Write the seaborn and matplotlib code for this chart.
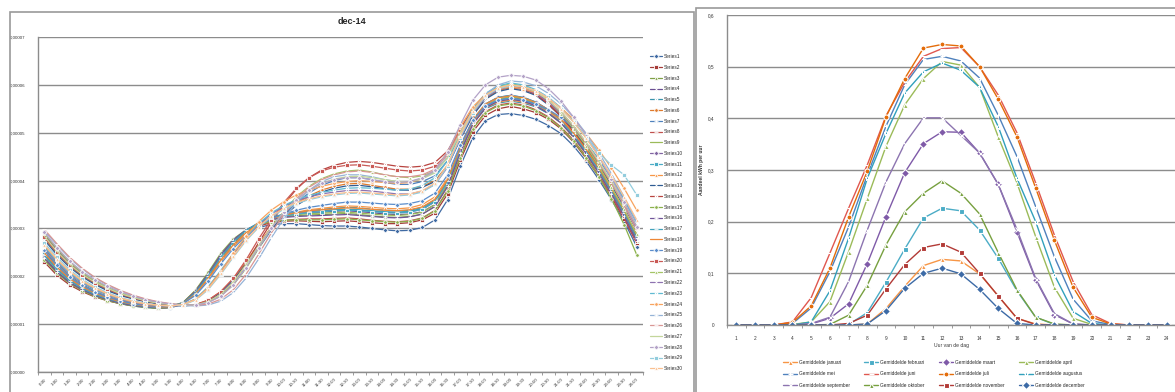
import numpy as np
import matplotlib
matplotlib.use('Agg')
import matplotlib.pyplot as plt
import seaborn as sns
from matplotlib.patches import Rectangle
from matplotlib.ticker import FuncFormatter

# ---- data: left chart, load profile per day of december (units of 1e-5) ----
time_labels = ['0:30', '1:00', '1:30', '2:00', '2:30', '3:00', '3:30', '4:00',
               '4:30', '5:00', '5:30', '6:00', '6:30', '7:00', '7:30', '8:00',
               '8:30', '9:00', '9:30', '10:00', '10:30', '11:00', '11:30', '12:00',
               '12:30', '13:00', '13:30', '14:00', '14:30', '15:00', '15:30', '16:00',
               '16:30', '17:00', '17:30', '18:00', '18:30', '19:00', '19:30', '20:00',
               '20:30', '21:00', '21:30', '22:00', '22:30', '23:00', '23:30', '24:00']

series_01 = [2.40, 2.10, 1.88, 1.72, 1.60, 1.50, 1.43, 1.38, 1.35, 1.33, 1.34, 1.42, 1.65, 2.00, 2.40, 2.72, 2.92, 3.02, 3.08, 3.10, 3.10, 3.08, 3.06, 3.05, 3.05, 3.03, 3.00, 2.97, 2.95, 2.96, 3.02, 3.18, 3.60, 4.30, 4.90, 5.25, 5.38, 5.40, 5.36, 5.28, 5.15, 4.98, 4.72, 4.40, 4.02, 3.60, 3.15, 2.62]
series_02 = [2.30, 2.02, 1.82, 1.68, 1.57, 1.49, 1.43, 1.39, 1.36, 1.34, 1.36, 1.45, 1.70, 2.05, 2.45, 2.75, 2.95, 3.05, 3.12, 3.15, 3.16, 3.15, 3.14, 3.15, 3.16, 3.14, 3.12, 3.10, 3.10, 3.12, 3.18, 3.32, 3.72, 4.42, 5.02, 5.36, 5.50, 5.55, 5.50, 5.42, 5.28, 5.08, 4.80, 4.46, 4.08, 3.65, 3.20, 2.70]
series_03 = [2.48, 2.18, 1.95, 1.77, 1.64, 1.54, 1.46, 1.41, 1.37, 1.35, 1.36, 1.44, 1.66, 2.00, 2.38, 2.70, 2.93, 3.08, 3.18, 3.24, 3.27, 3.28, 3.29, 3.30, 3.31, 3.29, 3.26, 3.24, 3.23, 3.25, 3.30, 3.46, 3.88, 4.58, 5.18, 5.52, 5.66, 5.70, 5.66, 5.56, 5.40, 5.20, 4.90, 4.55, 4.15, 3.72, 3.26, 2.74]
series_04 = [2.52, 2.22, 1.97, 1.79, 1.66, 1.55, 1.47, 1.42, 1.38, 1.36, 1.37, 1.44, 1.64, 1.98, 2.36, 2.68, 2.92, 3.08, 3.19, 3.26, 3.30, 3.33, 3.34, 3.36, 3.37, 3.35, 3.33, 3.30, 3.29, 3.30, 3.35, 3.50, 3.92, 4.62, 5.22, 5.56, 5.70, 5.74, 5.70, 5.60, 5.44, 5.24, 4.95, 4.60, 4.20, 3.76, 3.30, 2.80]
series_05 = [2.58, 2.27, 2.02, 1.83, 1.69, 1.58, 1.50, 1.44, 1.40, 1.37, 1.38, 1.45, 1.63, 1.95, 2.32, 2.64, 2.90, 3.08, 3.20, 3.28, 3.33, 3.37, 3.40, 3.42, 3.44, 3.43, 3.40, 3.38, 3.37, 3.38, 3.44, 3.60, 4.00, 4.65, 5.20, 5.50, 5.62, 5.66, 5.62, 5.54, 5.40, 5.22, 4.98, 4.66, 4.30, 3.90, 3.46, 2.98]
series_06 = [2.80, 2.48, 2.22, 2.01, 1.85, 1.72, 1.62, 1.54, 1.48, 1.43, 1.40, 1.39, 1.41, 1.50, 1.68, 1.95, 2.30, 2.68, 3.02, 3.30, 3.52, 3.68, 3.80, 3.88, 3.93, 3.94, 3.90, 3.86, 3.82, 3.82, 3.88, 4.00, 4.32, 4.88, 5.38, 5.72, 5.88, 5.94, 5.90, 5.80, 5.60, 5.36, 5.06, 4.72, 4.32, 3.92, 3.48, 2.98]
series_07 = [2.88, 2.56, 2.28, 2.06, 1.89, 1.75, 1.64, 1.56, 1.49, 1.44, 1.41, 1.39, 1.40, 1.46, 1.60, 1.84, 2.18, 2.58, 2.96, 3.28, 3.54, 3.74, 3.90, 4.00, 4.06, 4.06, 4.02, 3.96, 3.92, 3.92, 3.98, 4.10, 4.42, 4.98, 5.46, 5.80, 5.96, 6.00, 5.95, 5.84, 5.64, 5.38, 5.06, 4.70, 4.28, 3.84, 3.38, 2.86]
series_08 = [2.36, 2.08, 1.86, 1.71, 1.59, 1.50, 1.44, 1.39, 1.36, 1.34, 1.35, 1.44, 1.68, 2.03, 2.42, 2.73, 2.94, 3.06, 3.13, 3.17, 3.19, 3.20, 3.20, 3.21, 3.22, 3.20, 3.17, 3.15, 3.14, 3.16, 3.22, 3.38, 3.80, 4.50, 5.10, 5.44, 5.58, 5.62, 5.58, 5.48, 5.33, 5.12, 4.84, 4.50, 4.10, 3.68, 3.22, 2.70]
series_09 = [2.42, 2.13, 1.90, 1.74, 1.61, 1.52, 1.45, 1.40, 1.36, 1.34, 1.35, 1.43, 1.66, 2.01, 2.40, 2.72, 2.95, 3.10, 3.20, 3.26, 3.29, 3.31, 3.32, 3.33, 3.34, 3.32, 3.30, 3.28, 3.27, 3.29, 3.34, 3.50, 3.92, 4.62, 5.22, 5.56, 5.70, 5.75, 5.71, 5.61, 5.45, 5.24, 4.94, 4.58, 4.18, 3.74, 3.28, 2.76]
series_10 = [2.45, 2.15, 1.92, 1.75, 1.62, 1.53, 1.46, 1.41, 1.37, 1.35, 1.36, 1.44, 1.67, 2.02, 2.41, 2.73, 2.96, 3.11, 3.22, 3.29, 3.33, 3.35, 3.37, 3.38, 3.40, 3.38, 3.36, 3.34, 3.33, 3.35, 3.40, 3.56, 3.98, 4.66, 5.26, 5.60, 5.74, 5.78, 5.74, 5.64, 5.48, 5.27, 4.97, 4.62, 4.22, 3.78, 3.32, 2.80]
series_11 = [2.50, 2.20, 1.96, 1.78, 1.65, 1.55, 1.47, 1.42, 1.38, 1.36, 1.36, 1.43, 1.64, 1.97, 2.35, 2.67, 2.91, 3.07, 3.18, 3.25, 3.30, 3.33, 3.35, 3.37, 3.38, 3.37, 3.35, 3.33, 3.32, 3.34, 3.40, 3.56, 3.97, 4.64, 5.22, 5.55, 5.68, 5.72, 5.68, 5.58, 5.43, 5.23, 4.94, 4.60, 4.21, 3.78, 3.33, 2.83]
series_12 = [2.55, 2.25, 2.00, 1.81, 1.67, 1.57, 1.49, 1.43, 1.39, 1.37, 1.37, 1.44, 1.62, 1.94, 2.30, 2.62, 2.88, 3.06, 3.19, 3.28, 3.34, 3.39, 3.42, 3.45, 3.47, 3.46, 3.44, 3.42, 3.41, 3.43, 3.50, 3.66, 4.05, 4.68, 5.22, 5.52, 5.64, 5.68, 5.64, 5.56, 5.43, 5.26, 5.03, 4.72, 4.36, 3.96, 3.52, 3.04]
series_13 = [2.76, 2.45, 2.19, 1.99, 1.83, 1.70, 1.60, 1.53, 1.47, 1.42, 1.39, 1.38, 1.40, 1.49, 1.66, 1.92, 2.26, 2.64, 2.98, 3.26, 3.48, 3.64, 3.76, 3.84, 3.89, 3.90, 3.87, 3.83, 3.80, 3.80, 3.86, 3.98, 4.30, 4.86, 5.36, 5.70, 5.86, 5.92, 5.88, 5.78, 5.58, 5.34, 5.04, 4.70, 4.30, 3.90, 3.46, 2.96]
series_14 = [2.85, 2.53, 2.26, 2.04, 1.88, 1.74, 1.63, 1.55, 1.49, 1.44, 1.41, 1.39, 1.40, 1.47, 1.62, 1.88, 2.25, 2.70, 3.12, 3.50, 3.82, 4.06, 4.22, 4.32, 4.38, 4.40, 4.38, 4.34, 4.30, 4.28, 4.30, 4.38, 4.62, 5.08, 5.50, 5.80, 5.94, 5.98, 5.92, 5.80, 5.60, 5.34, 5.02, 4.66, 4.24, 3.80, 3.34, 2.82]
series_15 = [2.34, 2.06, 1.85, 1.70, 1.58, 1.49, 1.43, 1.38, 1.35, 1.33, 1.35, 1.45, 1.71, 2.08, 2.48, 2.78, 2.97, 3.08, 3.14, 3.17, 3.18, 3.18, 3.18, 3.19, 3.20, 3.18, 3.16, 3.14, 3.13, 3.15, 3.21, 3.37, 3.78, 4.48, 5.08, 5.42, 5.56, 5.60, 5.56, 5.46, 5.31, 5.10, 4.82, 4.48, 4.08, 3.62, 3.08, 2.45]
series_16 = [2.38, 2.09, 1.87, 1.72, 1.60, 1.51, 1.44, 1.39, 1.36, 1.34, 1.35, 1.44, 1.69, 2.05, 2.45, 2.76, 2.97, 3.10, 3.18, 3.23, 3.25, 3.26, 3.27, 3.28, 3.29, 3.27, 3.25, 3.23, 3.22, 3.24, 3.30, 3.46, 3.88, 4.58, 5.18, 5.52, 5.66, 5.70, 5.66, 5.56, 5.41, 5.20, 4.91, 4.56, 4.16, 3.72, 3.26, 2.74]
series_17 = [2.44, 2.14, 1.91, 1.75, 1.62, 1.53, 1.46, 1.41, 1.37, 1.35, 1.36, 1.44, 1.66, 2.01, 2.40, 2.72, 2.96, 3.12, 3.23, 3.30, 3.34, 3.36, 3.38, 3.39, 3.40, 3.39, 3.37, 3.35, 3.34, 3.36, 3.42, 3.58, 4.00, 4.68, 5.27, 5.60, 5.74, 5.78, 5.74, 5.64, 5.48, 5.27, 4.98, 4.63, 4.23, 3.79, 3.33, 2.81]
series_18 = [2.49, 2.19, 1.95, 1.78, 1.65, 1.55, 1.47, 1.42, 1.38, 1.36, 1.36, 1.43, 1.63, 1.96, 2.34, 2.66, 2.91, 3.08, 3.20, 3.28, 3.33, 3.37, 3.39, 3.41, 3.43, 3.42, 3.40, 3.38, 3.37, 3.39, 3.45, 3.61, 4.02, 4.70, 5.28, 5.60, 5.73, 5.77, 5.73, 5.63, 5.48, 5.28, 4.99, 4.65, 4.26, 3.83, 3.38, 2.87]
series_19 = [2.54, 2.24, 1.99, 1.81, 1.67, 1.57, 1.49, 1.43, 1.39, 1.37, 1.37, 1.43, 1.60, 1.90, 2.26, 2.58, 2.85, 3.05, 3.20, 3.30, 3.38, 3.44, 3.48, 3.52, 3.55, 3.55, 3.53, 3.51, 3.50, 3.52, 3.58, 3.74, 4.12, 4.74, 5.26, 5.56, 5.68, 5.72, 5.68, 5.60, 5.48, 5.32, 5.10, 4.80, 4.44, 4.04, 3.60, 3.12]
series_20 = [2.82, 2.50, 2.24, 2.03, 1.87, 1.74, 1.63, 1.55, 1.49, 1.44, 1.41, 1.39, 1.41, 1.50, 1.68, 1.96, 2.34, 2.78, 3.18, 3.54, 3.84, 4.06, 4.20, 4.28, 4.32, 4.33, 4.30, 4.26, 4.22, 4.20, 4.22, 4.30, 4.56, 5.04, 5.48, 5.78, 5.92, 5.96, 5.92, 5.82, 5.64, 5.40, 5.10, 4.76, 4.36, 3.94, 3.50, 3.00]
series_21 = [2.90, 2.58, 2.30, 2.08, 1.91, 1.77, 1.66, 1.57, 1.50, 1.45, 1.42, 1.40, 1.40, 1.46, 1.59, 1.82, 2.16, 2.58, 3.00, 3.36, 3.66, 3.88, 4.04, 4.14, 4.20, 4.22, 4.18, 4.12, 4.08, 4.06, 4.10, 4.20, 4.48, 4.98, 5.44, 5.78, 5.96, 6.02, 5.98, 5.86, 5.66, 5.40, 5.08, 4.72, 4.30, 3.86, 3.40, 2.88]
series_22 = [2.60, 2.30, 2.05, 1.86, 1.72, 1.61, 1.52, 1.46, 1.41, 1.38, 1.37, 1.40, 1.52, 1.76, 2.10, 2.46, 2.80, 3.08, 3.30, 3.46, 3.58, 3.66, 3.72, 3.76, 3.79, 3.80, 3.78, 3.75, 3.72, 3.72, 3.78, 3.92, 4.28, 4.88, 5.40, 5.74, 5.90, 5.96, 5.92, 5.82, 5.64, 5.42, 5.12, 4.78, 4.38, 3.96, 3.50, 3.00]
series_23 = [2.62, 2.32, 2.07, 1.88, 1.73, 1.62, 1.53, 1.47, 1.42, 1.39, 1.38, 1.41, 1.53, 1.78, 2.12, 2.48, 2.82, 3.10, 3.32, 3.48, 3.60, 3.69, 3.75, 3.80, 3.84, 3.85, 3.84, 3.82, 3.80, 3.82, 3.90, 4.06, 4.42, 5.00, 5.50, 5.82, 5.98, 6.04, 6.00, 5.90, 5.74, 5.52, 5.24, 4.90, 4.50, 4.08, 3.62, 3.12]
series_24 = [2.65, 2.35, 2.10, 1.90, 1.75, 1.63, 1.54, 1.47, 1.42, 1.39, 1.38, 1.41, 1.52, 1.76, 2.10, 2.48, 2.84, 3.14, 3.38, 3.56, 3.70, 3.80, 3.88, 3.94, 3.98, 4.00, 3.98, 3.96, 3.94, 3.96, 4.04, 4.22, 4.60, 5.12, 5.54, 5.80, 5.92, 5.96, 5.92, 5.84, 5.70, 5.52, 5.28, 4.98, 4.64, 4.26, 3.84, 3.38]
series_25 = [2.95, 2.66, 2.38, 2.15, 1.97, 1.82, 1.70, 1.60, 1.52, 1.46, 1.42, 1.39, 1.38, 1.40, 1.48, 1.66, 1.96, 2.36, 2.80, 3.20, 3.54, 3.80, 3.98, 4.08, 4.12, 4.12, 4.08, 4.02, 3.98, 3.98, 4.04, 4.18, 4.50, 5.00, 5.46, 5.80, 6.00, 6.08, 6.06, 5.98, 5.82, 5.60, 5.32, 4.98, 4.58, 4.14, 3.66, 3.12]
series_26 = [2.98, 2.68, 2.40, 2.17, 1.98, 1.83, 1.71, 1.61, 1.53, 1.47, 1.43, 1.40, 1.39, 1.42, 1.52, 1.72, 2.04, 2.46, 2.90, 3.30, 3.62, 3.86, 4.02, 4.12, 4.18, 4.20, 4.17, 4.12, 4.08, 4.08, 4.12, 4.24, 4.54, 5.02, 5.46, 5.78, 5.94, 6.00, 5.96, 5.86, 5.68, 5.44, 5.14, 4.78, 4.38, 3.94, 3.48, 2.96]
series_27 = [2.84, 2.52, 2.25, 2.04, 1.88, 1.75, 1.64, 1.56, 1.49, 1.44, 1.41, 1.39, 1.40, 1.47, 1.62, 1.88, 2.24, 2.64, 3.02, 3.34, 3.60, 3.80, 3.94, 4.03, 4.08, 4.09, 4.06, 4.02, 3.98, 3.98, 4.04, 4.16, 4.48, 5.00, 5.46, 5.78, 5.94, 6.00, 5.96, 5.86, 5.68, 5.44, 5.14, 4.80, 4.40, 3.98, 3.54, 3.04]
series_28 = [2.92, 2.60, 2.32, 2.10, 1.93, 1.79, 1.68, 1.59, 1.51, 1.46, 1.42, 1.40, 1.40, 1.45, 1.58, 1.82, 2.18, 2.60, 3.00, 3.34, 3.60, 3.80, 3.94, 4.02, 4.06, 4.06, 4.02, 3.98, 3.96, 3.98, 4.06, 4.22, 4.60, 5.16, 5.68, 6.00, 6.16, 6.20, 6.18, 6.10, 5.92, 5.66, 5.32, 4.94, 4.50, 4.04, 3.56, 3.04]
series_29 = [2.70, 2.40, 2.14, 1.94, 1.78, 1.66, 1.56, 1.49, 1.44, 1.40, 1.38, 1.40, 1.50, 1.72, 2.04, 2.40, 2.74, 3.02, 3.24, 3.40, 3.52, 3.60, 3.66, 3.70, 3.73, 3.74, 3.72, 3.70, 3.68, 3.70, 3.76, 3.92, 4.30, 4.90, 5.42, 5.76, 5.92, 5.98, 5.96, 5.88, 5.74, 5.50, 5.22, 4.90, 4.58, 4.32, 4.12, 3.70]
series_30 = [2.66, 2.36, 2.11, 1.91, 1.76, 1.64, 1.55, 1.48, 1.43, 1.40, 1.38, 1.41, 1.51, 1.74, 2.06, 2.42, 2.76, 3.04, 3.26, 3.42, 3.54, 3.62, 3.68, 3.72, 3.75, 3.76, 3.74, 3.72, 3.70, 3.72, 3.79, 3.95, 4.34, 4.94, 5.46, 5.78, 5.94, 6.00, 5.96, 5.88, 5.72, 5.50, 5.22, 4.88, 4.50, 4.10, 3.66, 3.18]

day_series = [series_01, series_02, series_03, series_04, series_05, series_06,
              series_07, series_08, series_09, series_10, series_11, series_12,
              series_13, series_14, series_15, series_16, series_17, series_18,
              series_19, series_20, series_21, series_22, series_23, series_24,
              series_25, series_26, series_27, series_28, series_29, series_30]

# ---- data: right chart, average share per hour of day per month ----
hours = [1, 2, 3, 4, 5, 6, 7, 8, 9, 10, 11, 12, 13, 14, 15, 16, 17, 18, 19, 20, 21, 22, 23, 24]
months = ['januari', 'februari', 'maart', 'april', 'mei', 'juni',
          'juli', 'augustus', 'september', 'oktober', 'november', 'december']
januari = [0, 0, 0, 0, 0, 0, 0, 0.002, 0.032, 0.075, 0.115, 0.127, 0.124, 0.099, 0.056, 0.013, 0.002, 0, 0, 0, 0, 0, 0, 0]
februari = [0, 0, 0, 0, 0, 0, 0.001, 0.024, 0.083, 0.147, 0.207, 0.226, 0.221, 0.184, 0.129, 0.066, 0.015, 0.001, 0, 0, 0, 0, 0, 0]
maart = [0, 0, 0, 0, 0.002, 0.013, 0.041, 0.119, 0.210, 0.295, 0.351, 0.374, 0.373, 0.333, 0.272, 0.180, 0.088, 0.020, 0.002, 0, 0, 0, 0, 0]
april = [0, 0, 0, 0.001, 0.006, 0.045, 0.142, 0.245, 0.346, 0.426, 0.477, 0.510, 0.503, 0.460, 0.364, 0.275, 0.171, 0.073, 0.013, 0.001, 0, 0, 0, 0]
mei = [0, 0, 0, 0.003, 0.033, 0.103, 0.190, 0.290, 0.385, 0.465, 0.514, 0.520, 0.511, 0.478, 0.406, 0.326, 0.229, 0.132, 0.050, 0.008, 0.001, 0, 0, 0]
juni = [0, 0, 0, 0.006, 0.053, 0.139, 0.226, 0.310, 0.405, 0.470, 0.520, 0.535, 0.537, 0.500, 0.445, 0.372, 0.275, 0.174, 0.084, 0.020, 0.003, 0, 0, 0]
juli = [0, 0, 0, 0.005, 0.037, 0.110, 0.209, 0.298, 0.403, 0.477, 0.536, 0.543, 0.540, 0.500, 0.437, 0.364, 0.265, 0.164, 0.073, 0.015, 0.002, 0, 0, 0]
augustus = [0, 0, 0, 0, 0.006, 0.066, 0.168, 0.284, 0.371, 0.449, 0.490, 0.507, 0.493, 0.460, 0.384, 0.284, 0.200, 0.097, 0.026, 0.003, 0, 0, 0, 0]
september = [0, 0, 0, 0, 0.003, 0.015, 0.084, 0.184, 0.277, 0.351, 0.401, 0.401, 0.367, 0.333, 0.272, 0.185, 0.090, 0.022, 0.002, 0, 0, 0, 0, 0]
oktober = [0, 0, 0, 0, 0, 0.001, 0.019, 0.077, 0.155, 0.219, 0.255, 0.279, 0.255, 0.215, 0.140, 0.068, 0.015, 0.002, 0, 0, 0, 0, 0, 0]
november = [0, 0, 0, 0, 0, 0, 0.003, 0.019, 0.070, 0.117, 0.150, 0.157, 0.141, 0.100, 0.056, 0.013, 0.001, 0, 0, 0, 0, 0, 0, 0]
december = [0, 0, 0, 0, 0, 0, 0, 0.002, 0.028, 0.071, 0.100, 0.110, 0.099, 0.069, 0.032, 0.003, 0, 0, 0, 0, 0, 0, 0, 0]
month_values = [januari, februari, maart, april, mei, juni,
                juli, augustus, september, oktober, november, december]

# ---- styles ----
day_colors = ['#3F6AA3', '#A53B38', '#7FA046', '#6A4F92', '#3993AB', '#DF7A2C',
              '#4F81BD', '#C0504D', '#9BBB59', '#8064A2', '#4BACC6', '#F79646',
              '#2F5C93', '#B8433F', '#8BB14C', '#70559A', '#41A2BB', '#EE8736',
              '#5B8DCB', '#C95A56', '#A4C566', '#8E72B0', '#5FBAD2', '#F8A35E',
              '#95B3D7', '#D99694', '#C3D69B', '#B3A2C7', '#93CDDD', '#FAC090']
day_markers = ['D', 's', '^', 'x', '*', 'o', '+', '_', None] * 4

month_colors = ['#F79646', '#4BACC6', '#7F5AA8', '#9BBB59', '#4F81BD', '#E0574F',
                '#E46C0A', '#31A0BC', '#8C74B0', '#77A03F', '#B23A36', '#3C6AA6']
month_markers = ['^', 's', 'D', '^', '+', '_', 'o', '*', 'x', '^', 's', 'D']

sns.set_theme(style='white')
plt.rcParams['font.family'] = ['Liberation Sans', 'DejaVu Sans']

fig = plt.figure(figsize=(11.75, 3.92), dpi=100)
W, H = 1175, 392

# chart frames
fig.add_artist(Rectangle((10 / W, -0.1), 684 / W, (392 - 12) / H + 0.1,
                         transform=fig.transFigure, fill=False, ec='#9a9a9a', lw=1.2))
fig.add_artist(Rectangle((696 / W, -0.1), 0.5, (392 - 8) / H + 0.1,
                         transform=fig.transFigure, fill=False, ec='#9a9a9a', lw=1.2))

# ---- left chart ----
ax1 = fig.add_axes([38 / W, 20 / H, 605 / W, 335 / H])
x_pos = np.arange(len(time_labels))
for i, vals in enumerate(day_series):
    y = np.array(vals) * 1e-5
    sns.lineplot(x=x_pos, y=y, ax=ax1, color=day_colors[i], marker=day_markers[i],
                 markersize=2.6, markeredgewidth=0.6, linewidth=0.9,
                 label=f'Series{i + 1}')

ax1.set_xlim(-0.5, len(time_labels) - 0.5)
ax1.set_ylim(0, 7e-5)
ax1.set_yticks(np.arange(0, 8) * 1e-5)
ax1.yaxis.set_major_formatter(FuncFormatter(lambda v, p: f'{v:.5f}'.replace('.', ',')))
ax1.yaxis.grid(True, color='#8c8c8c', lw=1.0)
ax1.xaxis.grid(False)
ax1.set_xticks(x_pos)
ax1.set_xticklabels(time_labels, rotation=45, ha='right', rotation_mode='anchor')
ax1.set_xticks(np.arange(-0.5, len(time_labels), 0.5), minor=True)
ax1.tick_params(axis='x', which='major', length=0, labelsize=3.2, pad=4, colors='#333333')
ax1.tick_params(axis='x', which='minor', length=2.5, width=0.6, color='#8c8c8c', bottom=True)
ax1.tick_params(axis='y', length=0, labelsize=3.2, pad=9, colors='#333333')
for s in ['top', 'right']:
    ax1.spines[s].set_visible(False)
for s in ['left', 'bottom']:
    ax1.spines[s].set_color('#8c8c8c')
    ax1.spines[s].set_linewidth(1.0)
ax1.set_xlabel('')
ax1.set_ylabel('')
ax1.legend(loc='upper left', bbox_to_anchor=(650 / W, 1 - 54 / H), bbox_transform=fig.transFigure,
           frameon=False, fontsize=3.4, handlelength=2.6, labelspacing=1.22,
           handletextpad=0.3, borderaxespad=0, borderpad=0)
fig.text(352 / W, 1 - 22 / H, 'dec-14', ha='center', va='center', fontsize=6.5, fontweight='bold')

# ---- right chart ----
ax2 = fig.add_axes([727 / W, 67 / H, 449 / W, 310 / H])
for i, m in enumerate(months):
    sns.lineplot(x=hours, y=month_values[i], ax=ax2, color=month_colors[i],
                 marker=month_markers[i], markersize=3.6, markeredgewidth=0.8,
                 linewidth=1.0, label=f'Gemiddelde {m}')

ax2.set_xlim(0.5, 24.5)
ax2.set_ylim(0, 0.6)
ax2.set_yticks(np.arange(0, 0.61, 0.1))
ax2.yaxis.set_major_formatter(FuncFormatter(lambda v, p: '0' if abs(v) < 1e-9 else f'{v:.1f}'.replace('.', ',')))
ax2.set_xticks(hours)
ax2.set_xticks(np.arange(0.5, 25, 1), minor=True)
ax2.yaxis.grid(True, color='#8c8c8c', lw=1.0)
ax2.xaxis.grid(False)
ax2.tick_params(axis='x', which='major', length=0, labelsize=3.4, pad=8, colors='#333333')
ax2.tick_params(axis='x', which='minor', length=2.5, width=0.6, color='#8c8c8c', bottom=True)
ax2.tick_params(axis='y', length=0, labelsize=3.4, pad=9, colors='#333333')
for s in ['top', 'right']:
    ax2.spines[s].set_visible(False)
for s in ['left', 'bottom']:
    ax2.spines[s].set_color('#8c8c8c')
    ax2.spines[s].set_linewidth(1.0)
ax2.set_xlabel('Uur van de dag', fontsize=3.6, labelpad=1, color='#333333')
ax2.set_ylabel('Aandeel kWh per uur', fontsize=3.6, fontweight='bold', labelpad=3, color='#333333')

# legend reads row by row, like the original
handles, labels = ax2.get_legend_handles_labels()
order = [0, 4, 8, 1, 5, 9, 2, 6, 10, 3, 7, 11]
ax2.legend([handles[k] for k in order], [labels[k] for k in order],
           loc='upper left', bbox_to_anchor=(783 / W, 1 - 360 / H), bbox_transform=fig.transFigure,
           ncol=4, frameon=False, fontsize=3.4, handlelength=3.0, columnspacing=3.0,
           labelspacing=1.35, handletextpad=0.4, borderaxespad=0, borderpad=0)

fig.savefig('out.png', dpi=100)
